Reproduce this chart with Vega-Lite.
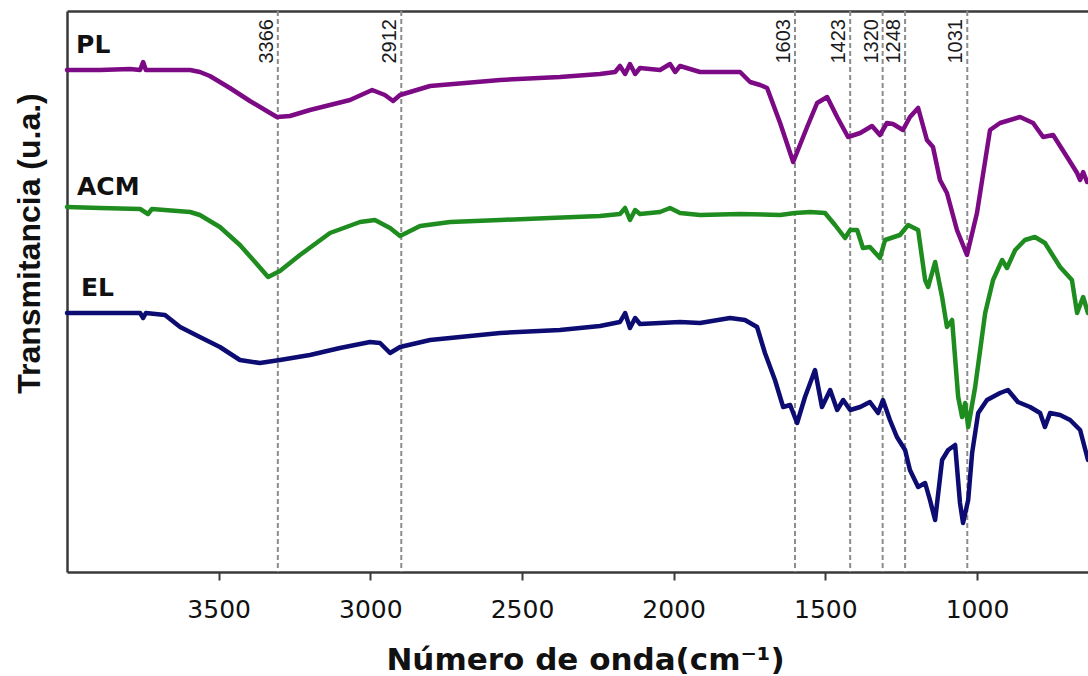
{
  "$schema": "https://vega.github.io/schema/vega-lite/v6.json",
  "width": 1021,
  "height": 561,
  "autosize": {"type": "none"},
  "padding": {"left": 67, "top": 11, "right": 0, "bottom": 104},
  "background": "white",
  "config": {"view": {"stroke": null}, "axis": {"grid": false}},
  "datasets": {
    "bands": [
      {"pos": 3305, "label": "3366"},
      {"pos": 2898, "label": "2912"},
      {"pos": 1600, "label": "1603"},
      {"pos": 1418, "label": "1423"},
      {"pos": 1311, "label": "1320"},
      {"pos": 1237, "label": "1248"},
      {"pos": 1032, "label": "1031"}
    ],
    "names": [
      {"name": "PL", "w": 3970, "t": 519},
      {"name": "ACM", "w": 3967, "t": 377},
      {"name": "EL", "w": 3954, "t": 276}
    ],
    "spectra": [
      {"s":"PL","w":4000,"t":502},{"s":"PL","w":3891,"t":502},{"s":"PL","w":3792,"t":503},{"s":"PL","w":3759,"t":502},{"s":"PL","w":3749,"t":510},{"s":"PL","w":3740,"t":502},{"s":"PL","w":3660,"t":502},{"s":"PL","w":3594,"t":502},{"s":"PL","w":3562,"t":500},{"s":"PL","w":3529,"t":496},{"s":"PL","w":3463,"t":484},{"s":"PL","w":3397,"t":471},{"s":"PL","w":3347,"t":462},{"s":"PL","w":3308,"t":455},{"s":"PL","w":3265,"t":456},{"s":"PL","w":3199,"t":462},{"s":"PL","w":3133,"t":467},{"s":"PL","w":3067,"t":472},{"s":"PL","w":2994,"t":482},{"s":"PL","w":2952,"t":477},{"s":"PL","w":2925,"t":471},{"s":"PL","w":2902,"t":477},{"s":"PL","w":2803,"t":486},{"s":"PL","w":2572,"t":492},{"s":"PL","w":2375,"t":495},{"s":"PL","w":2243,"t":498},{"s":"PL","w":2193,"t":500},{"s":"PL","w":2177,"t":506},{"s":"PL","w":2160,"t":498},{"s":"PL","w":2144,"t":508},{"s":"PL","w":2127,"t":498},{"s":"PL","w":2111,"t":504},{"s":"PL","w":2045,"t":502},{"s":"PL","w":2012,"t":508},{"s":"PL","w":1995,"t":500},{"s":"PL","w":1979,"t":506},{"s":"PL","w":1913,"t":500},{"s":"PL","w":1781,"t":500},{"s":"PL","w":1748,"t":490},{"s":"PL","w":1715,"t":487},{"s":"PL","w":1692,"t":484},{"s":"PL","w":1649,"t":449},{"s":"PL","w":1606,"t":410},{"s":"PL","w":1560,"t":445},{"s":"PL","w":1527,"t":469},{"s":"PL","w":1494,"t":475},{"s":"PL","w":1461,"t":455},{"s":"PL","w":1425,"t":435},{"s":"PL","w":1385,"t":439},{"s":"PL","w":1346,"t":446},{"s":"PL","w":1320,"t":437},{"s":"PL","w":1297,"t":449},{"s":"PL","w":1277,"t":448},{"s":"PL","w":1244,"t":442},{"s":"PL","w":1221,"t":455},{"s":"PL","w":1194,"t":464},{"s":"PL","w":1165,"t":432},{"s":"PL","w":1145,"t":425},{"s":"PL","w":1122,"t":392},{"s":"PL","w":1099,"t":379},{"s":"PL","w":1066,"t":342},{"s":"PL","w":1033,"t":317},{"s":"PL","w":1000,"t":359},{"s":"PL","w":983,"t":392},{"s":"PL","w":957,"t":442},{"s":"PL","w":924,"t":449},{"s":"PL","w":858,"t":455},{"s":"PL","w":815,"t":449},{"s":"PL","w":782,"t":435},{"s":"PL","w":749,"t":437},{"s":"PL","w":703,"t":415},{"s":"PL","w":670,"t":399},{"s":"PL","w":660,"t":392},{"s":"PL","w":650,"t":400},{"s":"PL","w":637,"t":390},{"s":"PL","w":634,"t":392},
      {"s":"ACM","w":4000,"t":365},{"s":"ACM","w":3891,"t":364},{"s":"ACM","w":3759,"t":363},{"s":"ACM","w":3733,"t":358},{"s":"ACM","w":3720,"t":363},{"s":"ACM","w":3594,"t":360},{"s":"ACM","w":3562,"t":357},{"s":"ACM","w":3496,"t":345},{"s":"ACM","w":3430,"t":327},{"s":"ACM","w":3380,"t":310},{"s":"ACM","w":3337,"t":295},{"s":"ACM","w":3298,"t":301},{"s":"ACM","w":3232,"t":317},{"s":"ACM","w":3133,"t":339},{"s":"ACM","w":3034,"t":350},{"s":"ACM","w":2985,"t":352},{"s":"ACM","w":2935,"t":344},{"s":"ACM","w":2902,"t":336},{"s":"ACM","w":2836,"t":346},{"s":"ACM","w":2737,"t":350},{"s":"ACM","w":2572,"t":352},{"s":"ACM","w":2408,"t":354},{"s":"ACM","w":2243,"t":356},{"s":"ACM","w":2177,"t":358},{"s":"ACM","w":2160,"t":364},{"s":"ACM","w":2144,"t":352},{"s":"ACM","w":2127,"t":362},{"s":"ACM","w":2111,"t":358},{"s":"ACM","w":2045,"t":360},{"s":"ACM","w":2012,"t":364},{"s":"ACM","w":1979,"t":359},{"s":"ACM","w":1913,"t":357},{"s":"ACM","w":1781,"t":358},{"s":"ACM","w":1649,"t":357},{"s":"ACM","w":1600,"t":359},{"s":"ACM","w":1550,"t":360},{"s":"ACM","w":1501,"t":359},{"s":"ACM","w":1468,"t":347},{"s":"ACM","w":1435,"t":334},{"s":"ACM","w":1418,"t":342},{"s":"ACM","w":1395,"t":342},{"s":"ACM","w":1376,"t":324},{"s":"ACM","w":1353,"t":325},{"s":"ACM","w":1320,"t":314},{"s":"ACM","w":1303,"t":332},{"s":"ACM","w":1254,"t":337},{"s":"ACM","w":1227,"t":347},{"s":"ACM","w":1194,"t":342},{"s":"ACM","w":1171,"t":292},{"s":"ACM","w":1161,"t":285},{"s":"ACM","w":1138,"t":310},{"s":"ACM","w":1115,"t":275},{"s":"ACM","w":1099,"t":245},{"s":"ACM","w":1082,"t":252},{"s":"ACM","w":1062,"t":175},{"s":"ACM","w":1049,"t":155},{"s":"ACM","w":1039,"t":169},{"s":"ACM","w":1029,"t":145},{"s":"ACM","w":1006,"t":185},{"s":"ACM","w":973,"t":259},{"s":"ACM","w":947,"t":292},{"s":"ACM","w":917,"t":312},{"s":"ACM","w":901,"t":304},{"s":"ACM","w":874,"t":322},{"s":"ACM","w":842,"t":332},{"s":"ACM","w":809,"t":335},{"s":"ACM","w":776,"t":329},{"s":"ACM","w":726,"t":305},{"s":"ACM","w":687,"t":292},{"s":"ACM","w":670,"t":259},{"s":"ACM","w":650,"t":275},{"s":"ACM","w":634,"t":259},
      {"s":"EL","w":4000,"t":259},{"s":"EL","w":3891,"t":259},{"s":"EL","w":3759,"t":259},{"s":"EL","w":3749,"t":254},{"s":"EL","w":3740,"t":259},{"s":"EL","w":3677,"t":257},{"s":"EL","w":3627,"t":245},{"s":"EL","w":3562,"t":235},{"s":"EL","w":3496,"t":225},{"s":"EL","w":3430,"t":212},{"s":"EL","w":3364,"t":209},{"s":"EL","w":3298,"t":212},{"s":"EL","w":3199,"t":217},{"s":"EL","w":3100,"t":224},{"s":"EL","w":3001,"t":230},{"s":"EL","w":2968,"t":229},{"s":"EL","w":2935,"t":219},{"s":"EL","w":2902,"t":225},{"s":"EL","w":2803,"t":232},{"s":"EL","w":2572,"t":239},{"s":"EL","w":2375,"t":242},{"s":"EL","w":2243,"t":246},{"s":"EL","w":2177,"t":250},{"s":"EL","w":2160,"t":259},{"s":"EL","w":2144,"t":244},{"s":"EL","w":2127,"t":254},{"s":"EL","w":2111,"t":248},{"s":"EL","w":1979,"t":250},{"s":"EL","w":1913,"t":249},{"s":"EL","w":1814,"t":254},{"s":"EL","w":1765,"t":252},{"s":"EL","w":1725,"t":245},{"s":"EL","w":1699,"t":219},{"s":"EL","w":1666,"t":192},{"s":"EL","w":1639,"t":165},{"s":"EL","w":1616,"t":167},{"s":"EL","w":1593,"t":149},{"s":"EL","w":1567,"t":175},{"s":"EL","w":1534,"t":202},{"s":"EL","w":1511,"t":165},{"s":"EL","w":1484,"t":182},{"s":"EL","w":1461,"t":162},{"s":"EL","w":1441,"t":172},{"s":"EL","w":1418,"t":162},{"s":"EL","w":1385,"t":165},{"s":"EL","w":1353,"t":170},{"s":"EL","w":1326,"t":159},{"s":"EL","w":1310,"t":172},{"s":"EL","w":1287,"t":152},{"s":"EL","w":1264,"t":135},{"s":"EL","w":1237,"t":122},{"s":"EL","w":1221,"t":102},{"s":"EL","w":1194,"t":85},{"s":"EL","w":1171,"t":89},{"s":"EL","w":1155,"t":72},{"s":"EL","w":1138,"t":52},{"s":"EL","w":1115,"t":112},{"s":"EL","w":1095,"t":122},{"s":"EL","w":1072,"t":127},{"s":"EL","w":1056,"t":69},{"s":"EL","w":1046,"t":49},{"s":"EL","w":1029,"t":72},{"s":"EL","w":1016,"t":119},{"s":"EL","w":996,"t":159},{"s":"EL","w":967,"t":172},{"s":"EL","w":924,"t":179},{"s":"EL","w":898,"t":182},{"s":"EL","w":865,"t":170},{"s":"EL","w":825,"t":165},{"s":"EL","w":792,"t":159},{"s":"EL","w":776,"t":145},{"s":"EL","w":759,"t":159},{"s":"EL","w":726,"t":157},{"s":"EL","w":693,"t":152},{"s":"EL","w":660,"t":142},{"s":"EL","w":634,"t":112}
    ]
  },
  "layer": [
    {
      "data": {"name": "bands"},
      "mark": {"type": "rule", "color": "#8c8c8c", "strokeWidth": 2, "strokeDash": [5, 3]},
      "encoding": {
        "x": {
          "field": "pos", "type": "quantitative",
          "scale": {"domain": [634, 4000], "reverse": true, "nice": false, "zero": false},
          "axis": {"orient": "top", "labels": false, "ticks": false, "title": null, "domain": true, "domainColor": "#3a3a3a", "domainWidth": 2.5}
        }
      }
    },
    {
      "data": {"name": "bands"},
      "mark": {"type": "text", "angle": 270, "align": "right", "baseline": "alphabetic", "dx": -8, "dy": -5, "font": "Liberation Sans", "fontSize": 20, "color": "#1a1a1a"},
      "encoding": {
        "x": {"field": "pos", "type": "quantitative", "scale": {"domain": [634, 4000], "reverse": true, "nice": false, "zero": false}, "axis": null},
        "y": {"datum": 561, "type": "quantitative", "scale": {"domain": [0, 561], "nice": false, "zero": false}, "axis": null},
        "text": {"field": "label"}
      }
    },
    {
      "data": {"name": "spectra"},
      "mark": {"type": "line", "strokeWidth": 4.5, "strokeJoin": "round", "strokeCap": "round"},
      "encoding": {
        "x": {
          "field": "w", "type": "quantitative",
          "scale": {"domain": [634, 4000], "reverse": true, "nice": false, "zero": false},
          "axis": {
            "orient": "bottom", "values": [3500, 3000, 2500, 2000, 1500, 1000], "format": "d",
            "domain": true, "domainColor": "#3a3a3a", "domainWidth": 2.5,
            "ticks": true, "tickColor": "#3a3a3a", "tickWidth": 2, "tickSize": 8,
            "labelFont": "DejaVu Sans", "labelFontSize": 25, "labelColor": "#111111",
            "labelBaseline": "alphabetic", "labelPadding": 37, "labelFlush": false,
            "title": "Número de onda(cm⁻¹)", "titleFont": "DejaVu Sans", "titleFontWeight": "bold",
            "titleFontSize": 31, "titleColor": "#111111", "titleX": 518, "titleY": 97,
            "titleBaseline": "alphabetic", "titleAlign": "center"
          }
        },
        "y": {
          "field": "t", "type": "quantitative",
          "scale": {"domain": [0, 561], "nice": false, "zero": false},
          "axis": {
            "orient": "left", "domain": true, "domainColor": "#3a3a3a", "domainWidth": 2.5,
            "ticks": false, "labels": false,
            "title": "Transmitancia (u.a.)", "titleFont": "Liberation Sans", "titleFontWeight": "bold",
            "titleFontSize": 32, "titleColor": "#111111", "titleAngle": 270, "titleX": -28, "titleY": 232,
            "titleBaseline": "alphabetic", "titleAlign": "center"
          }
        },
        "color": {
          "field": "s", "type": "nominal",
          "scale": {"domain": ["PL", "ACM", "EL"], "range": ["#7d0a85", "#1f8c1f", "#0c0c72"]},
          "legend": null
        }
      }
    },
    {
      "data": {"name": "names"},
      "mark": {"type": "text", "align": "left", "baseline": "alphabetic", "font": "DejaVu Sans", "fontWeight": "bold", "fontSize": 25, "color": "#111111"},
      "encoding": {
        "x": {"field": "w", "type": "quantitative", "scale": {"domain": [634, 4000], "reverse": true, "nice": false, "zero": false}, "axis": null},
        "y": {"field": "t", "type": "quantitative", "scale": {"domain": [0, 561], "nice": false, "zero": false}, "axis": null},
        "text": {"field": "name"}
      }
    }
  ],
  "resolve": {"axis": {"x": "independent", "y": "independent"}}
}
